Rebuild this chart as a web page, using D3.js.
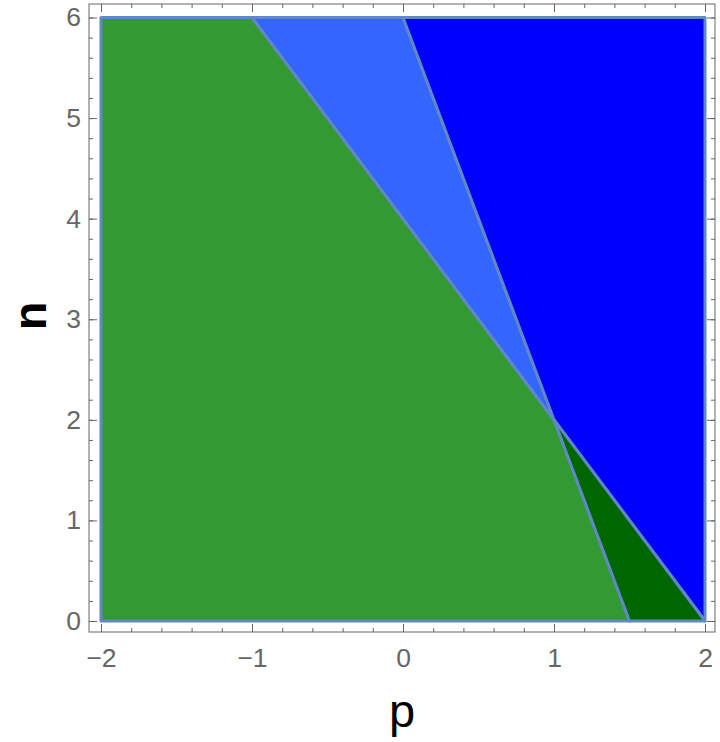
<!DOCTYPE html>
<html><head><meta charset="utf-8">
<script src="https://cdn.jsdelivr.net/npm/d3@7"></script>
<style>body{margin:0;background:#fff}svg{display:block}</style>
</head><body>
<script>
// Data
const xTicks = [-2, -1, 0, 1, 2];
const yTicks = [0, 1, 2, 3, 4, 5, 6];
const regionNames = ["green", "lightBlue", "blue", "darkGreen"];
const regionColors = ["#339933", "#3366ff", "#0000ff", "#006600"];
const greenPts = [[-2,0],[-2,6],[-1,6],[1,2],[1.5,0]];
const lightBluePts = [[-1,6],[0,6],[1,2]];
const bluePts = [[0,6],[2,6],[2,0],[1,2]];
const darkGreenPts = [[1,2],[2,0],[1.5,0]];
const regions = [greenPts, lightBluePts, bluePts, darkGreenPts];

(function(){
const W = 720, H = 742;
const svg = d3.select("body").append("svg").attr("width", W).attr("height", H);

const x = d3.scaleLinear().domain([-2, 2]).range([101, 705]);
const y = d3.scaleLinear().domain([0, 6]).range([621, 17.5]);
const frame = {l: 89, r: 715, t: 4, b: 632};

const line = d3.line().x(d => x(d[0])).y(d => y(d[1]));
svg.append("g").selectAll("path").data(regions).join("path")
  .attr("d", d => line(d) + "Z")
  .attr("fill", (d, i) => regionColors[i])
  .attr("stroke", "#6088c4")
  .attr("stroke-width", 3)
  .attr("stroke-linejoin", "round");

const gray = "#666";
svg.append("rect").attr("x", frame.l).attr("y", frame.t)
  .attr("width", frame.r - frame.l).attr("height", frame.b - frame.t)
  .attr("fill", "none").attr("stroke", gray).attr("stroke-width", 1);

const xMinor = d3.range(-2, 2.0001, 0.2);
const yMinor = d3.range(0, 6.0001, 0.2);
const fmt = v => (v < 0 ? "\u2212" + Math.abs(v) : String(v));

const axB = d3.axisBottom(x).tickValues(xMinor).tickSize(-4).tickFormat("");
const axT = d3.axisTop(x).tickValues(xMinor).tickSize(-4).tickFormat("");
const axL = d3.axisLeft(y).tickValues(yMinor).tickSize(-4).tickFormat("");
const axR = d3.axisRight(y).tickValues(yMinor).tickSize(-4).tickFormat("");
function style(g){ g.select(".domain").remove(); g.selectAll("line").attr("stroke", gray); }
svg.append("g").attr("transform", `translate(0,${frame.b})`).call(axB).call(style);
svg.append("g").attr("transform", `translate(0,${frame.t})`).call(axT).call(style);
svg.append("g").attr("transform", `translate(${frame.l},0)`).call(axL).call(style);
svg.append("g").attr("transform", `translate(${frame.r},0)`).call(axR).call(style);

const bM = d3.axisBottom(x).tickValues(xTicks).tickSize(-8).tickPadding(16).tickFormat(fmt);
const tM = d3.axisTop(x).tickValues(xTicks).tickSize(-8).tickFormat("");
const lM = d3.axisLeft(y).tickValues(yTicks).tickSize(-8).tickPadding(8).tickFormat(fmt);
const rM = d3.axisRight(y).tickValues(yTicks).tickSize(-8).tickFormat("");
function styleM(g){ g.select(".domain").remove(); g.selectAll("line").attr("stroke", gray);
  g.selectAll("text").attr("fill", gray).attr("font-family", "Liberation Sans, Arial, sans-serif").attr("font-size", 26.5); }
svg.append("g").attr("transform", `translate(0,${frame.b})`).call(bM).call(styleM);
svg.append("g").attr("transform", `translate(0,${frame.t})`).call(tM).call(styleM);
svg.append("g").attr("transform", `translate(${frame.l},0)`).call(lM).call(styleM);
svg.append("g").attr("transform", `translate(${frame.r},0)`).call(rM).call(styleM);

svg.append("text").attr("x", 402).attr("y", 727).attr("text-anchor", "middle")
  .attr("font-family", "Liberation Sans, Arial, sans-serif").attr("font-size", 47)
  .attr("fill", "#000").text("p");
svg.append("text").attr("transform", "translate(46,316) rotate(-90)").attr("text-anchor", "middle")
  .attr("font-family", "Liberation Sans, Arial, sans-serif").attr("font-size", 47)
  .attr("font-weight", "bold").attr("fill", "#000").text("n");
})();
</script>
</body></html>
